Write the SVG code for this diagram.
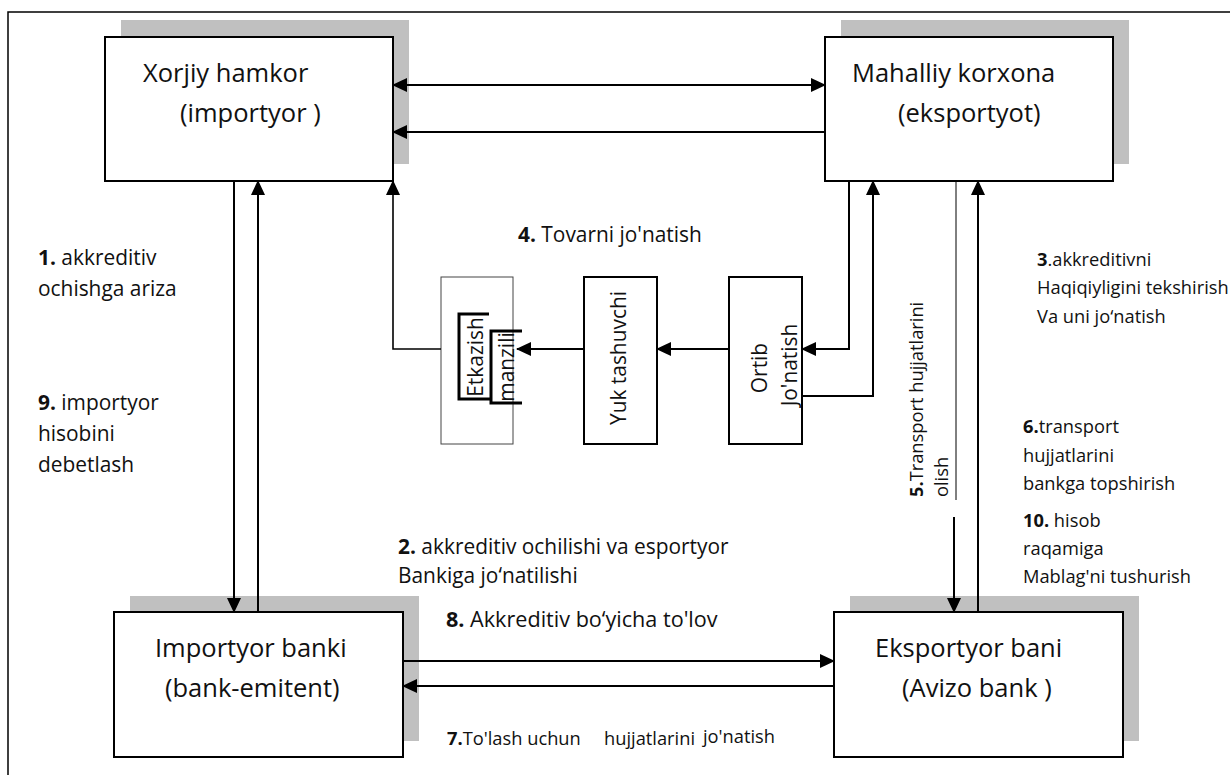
<svg xmlns="http://www.w3.org/2000/svg" width="1230" height="775" viewBox="0 0 1230 775">
  <defs>
    <style>
      .box { fill: #fff; stroke: #000; stroke-width: 2; }
      .thinbox { fill: #fff; stroke: #444; stroke-width: 1; }
      .shadow { fill: #c0c0c0; }
      .title { font-family: "Open Sans", "Liberation Sans", sans-serif; font-size: 25.5px; fill: #111; }
      .lbl { font-family: "Open Sans", "Liberation Sans", sans-serif; font-size: 20.9px; fill: #111; }
      .sm { font-size: 18.3px; }
      .b { font-weight: bold; }
      .conn { stroke: #000; stroke-width: 2; fill: none; }
      .bracket { stroke: #000; stroke-width: 3; fill: none; }
    </style>
    <marker id="ah" markerWidth="15" markerHeight="14" refX="14" refY="7" orient="auto-start-reverse" markerUnits="userSpaceOnUse">
      <path d="M0,0 L15,7 L0,14 z" fill="#000"/>
    </marker>
  </defs>

  <rect width="1230" height="775" fill="#fff"/>

  <!-- page frame -->
  <path d="M8,775 V12 H1230" fill="none" stroke="#000" stroke-width="1.5"/>

  <!-- parties and banks -->
  <g id="xorjiy-hamkor">
    <rect class="shadow" x="121" y="20" width="288" height="144"/>
    <rect class="box" x="105" y="37" width="288" height="144"/>
    <text class="title" x="143" y="82">Xorjiy hamkor</text>
    <text class="title" x="180" y="122">(importyor )</text>
  </g>

  <g id="mahalliy-korxona">
    <rect class="shadow" x="841" y="20" width="288" height="144"/>
    <rect class="box" x="825" y="37" width="288" height="144"/>
    <text class="title" x="852" y="82">Mahalliy korxona</text>
    <text class="title" x="898" y="122">(eksportyot)</text>
  </g>

  <g id="importyor-banki">
    <rect class="shadow" x="130" y="596" width="289" height="145"/>
    <rect class="box" x="114" y="612" width="289" height="145"/>
    <text class="title" x="155" y="657">Importyor banki</text>
    <text class="title" x="165" y="697">(bank-emitent)</text>
  </g>

  <g id="eksportyor-banki">
    <rect class="shadow" x="850" y="596" width="289" height="145"/>
    <rect class="box" x="834" y="612" width="289" height="145"/>
    <text class="title" x="875" y="657">Eksportyor bani</text>
    <text class="title" x="902" y="697">(Avizo bank )</text>
  </g>

  <!-- goods chain -->
  <g id="etkazish-manzili">
    <rect class="thinbox" x="441" y="277" width="72" height="167"/>
    <path class="bracket" d="M489,314 H459 V399 H491"/>
    <path class="bracket" d="M522,331 H491 V403 H522"/>
    <text class="lbl" transform="translate(483,357) rotate(-90)" text-anchor="middle">Etkazish</text>
    <text class="lbl" transform="translate(514,367) rotate(-90)" text-anchor="middle">manzili</text>
  </g>

  <g id="yuk-tashuvchi">
    <rect class="box" x="584" y="277" width="73" height="167"/>
    <text class="lbl" transform="translate(626,358) rotate(-90)" text-anchor="middle">Yuk tashuvchi</text>
  </g>

  <g id="ortib-jonatish">
    <rect class="box" x="729" y="277" width="73" height="167"/>
    <text class="lbl" transform="translate(767,368) rotate(-90)" text-anchor="middle">Ortib</text>
    <text class="lbl" transform="translate(797,365) rotate(-90)" text-anchor="middle">Jo'natish</text>
  </g>

  <!-- connectors -->
  <g id="connectors">
    <path class="conn" d="M393,85 H825" marker-start="url(#ah)" marker-end="url(#ah)"/>
    <path class="conn" d="M825,132 H393" marker-end="url(#ah)"/>
    <path class="conn" d="M234,181 V612" marker-end="url(#ah)"/>
    <path class="conn" d="M258,612 V181" marker-end="url(#ah)"/>
    <path class="conn" style="stroke-width:1.6" d="M441,349 H393 V181" marker-end="url(#ah)"/>
    <path class="conn" d="M729,349 H657" marker-end="url(#ah)"/>
    <path class="conn" d="M584,349 H517" marker-end="url(#ah)"/>
    <path class="conn" d="M849,181 V349 H802" marker-end="url(#ah)"/>
    <path class="conn" d="M802,396 H873 V181" marker-end="url(#ah)"/>
    <path class="conn" style="stroke-width:1" d="M956,181 V500"/>
    <path class="conn" d="M954,517 V612" marker-end="url(#ah)"/>
    <path class="conn" d="M978,612 V181" marker-end="url(#ah)"/>
    <path class="conn" d="M403,661 H834" marker-end="url(#ah)"/>
    <path class="conn" d="M834,686 H403" marker-end="url(#ah)"/>
  </g>

  <!-- step labels -->
  <g id="labels">
    <text class="lbl" x="38" y="265"><tspan class="b">1.</tspan> akkreditiv</text>
    <text class="lbl" x="38" y="296">ochishga ariza</text>

    <text class="lbl" x="38" y="410"><tspan class="b">9.</tspan> importyor</text>
    <text class="lbl" x="38" y="441">hisobini</text>
    <text class="lbl" x="38" y="472">debetlash</text>

    <text class="lbl" x="518" y="242"><tspan class="b">4.</tspan> Tovarni jo'natish</text>

    <text class="lbl sm" x="1037" y="266"><tspan class="b">3</tspan>.akkreditivni</text>
    <text class="lbl sm" x="1037" y="294">Haqiqiyligini tekshirish</text>
    <text class="lbl sm" x="1037" y="323">Va uni jo‘natish</text>

    <text class="lbl sm" transform="translate(923,497) rotate(-90)"><tspan class="b">5.</tspan>Transport hujjatlarini</text>
    <text class="lbl sm" transform="translate(948,497) rotate(-90)">olish</text>

    <text class="lbl sm" x="1023" y="433"><tspan class="b">6.</tspan>transport</text>
    <text class="lbl sm" x="1023" y="462">hujjatlarini</text>
    <text class="lbl sm" x="1023" y="490">bankga topshirish</text>

    <text class="lbl sm" x="1023" y="527"><tspan class="b">10.</tspan> hisob</text>
    <text class="lbl sm" x="1023" y="555">raqamiga</text>
    <text class="lbl sm" x="1023" y="583">Mablag'ni tushurish</text>

    <text class="lbl" x="398" y="554"><tspan class="b">2.</tspan> akkreditiv ochilishi va esportyor</text>
    <text class="lbl" x="398" y="583">Bankiga jo‘natilishi</text>

    <text class="lbl" style="font-size:21.6px" x="446" y="627"><tspan class="b">8.</tspan> Akkreditiv bo‘yicha to'lov</text>

    <text class="lbl sm" x="447" y="745"><tspan class="b">7.</tspan>To'lash uchun</text>
    <text class="lbl sm" x="604" y="745">hujjatlarini</text>
    <text class="lbl sm" x="703" y="743">jo'natish</text>
  </g>
</svg>
